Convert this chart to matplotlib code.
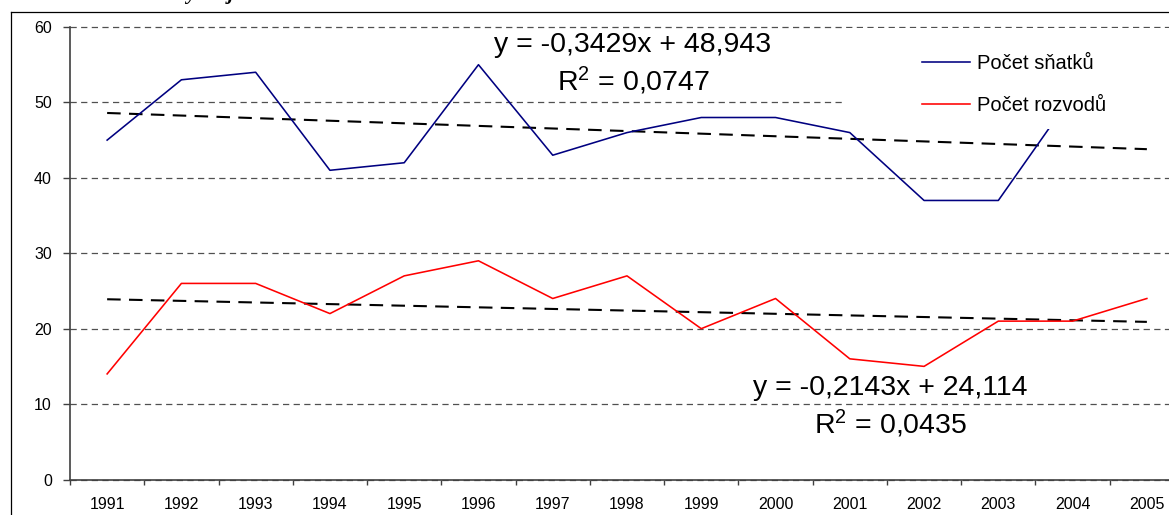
import numpy as np
import matplotlib
matplotlib.use("Agg")
import matplotlib.pyplot as plt
from matplotlib.lines import Line2D
from matplotlib.patches import Rectangle

plt.rcParams['font.family'] = ['Liberation Sans', 'DejaVu Sans']
plt.rcParams['mathtext.fontset'] = 'custom'
plt.rcParams['mathtext.rm'] = 'Liberation Sans'
plt.rcParams['mathtext.it'] = 'Liberation Sans:italic'

# data
years = ['1991', '1992', '1993', '1994', '1995', '1996', '1997', '1998',
         '1999', '2000', '2001', '2002', '2003', '2004', '2005']
snatky = [45, 53, 54, 41, 42, 55, 43, 46, 48, 48, 46, 37, 37, 51, 47]
rozvody = [14, 26, 26, 22, 27, 29, 24, 27, 20, 24, 16, 15, 21, 21, 24]
label_snatky = 'Počet sňatků'
label_rozvody = 'Počet rozvodů'
eq_snatky = ['y = -0,3429x + 48,943', r'R$^{\mathrm{2}}$ = 0,0747']
eq_rozvody = ['y = -0,2143x + 24,114', r'R$^{\mathrm{2}}$ = 0,0435']
yticks = [0, 10, 20, 30, 40, 50, 60]

W, H = 1169, 515
fig = plt.figure(figsize=(W / 100, H / 100), dpi=100)
fig.patch.set_facecolor('white')


def fx(px):
    return px / W


def fy(py):
    return 1 - py / H


# plot area in pixel terms (extends past the right edge of the canvas)
left, right, top, bottom = 70, 1184, 27, 479.5
ax = fig.add_axes([fx(left), fy(bottom), (right - left) / W, (bottom - top) / H])
ax.set_facecolor('none')

x = np.arange(len(years))
ax.set_xlim(-0.5, len(years) - 0.5)
ax.set_ylim(0, 60)

# series
ax.plot(x, snatky, color='#000080', lw=1.15, zorder=3, label=label_snatky)
ax.plot(x, rozvody, color='#ff0000', lw=1.15, zorder=3, label=label_rozvody)

# linear trends (x counted from 1 as in the spreadsheet)
xn = x + 1
for series in (snatky, rozvody):
    k, q = np.polyfit(xn, series, 1)
    ax.plot(x, k * xn + q, color='black', lw=1.5,
            linestyle=(0, (6.5, 4)), zorder=2.5)

# grid
ax.set_yticks(yticks)
ax.yaxis.grid(True, color='#505050', lw=0.9, linestyle=(0, (5, 3.5)))
for gl in ax.get_ygridlines():
    gl.set_clip_on(False)
ax.set_axisbelow(True)

# axes styling
for s in ('top', 'right'):
    ax.spines[s].set_visible(False)
for s in ('left', 'bottom'):
    ax.spines[s].set_color('#404040')
    ax.spines[s].set_linewidth(1.2)
    ax.spines[s].set_zorder(3.5)

ax.set_xticks(x)
ax.set_xticklabels(years)
ax.set_xticks(np.arange(-0.5, len(years), 1.0), minor=True)
ax.tick_params(axis='x', which='major', length=0, pad=12.5, labelsize=11.5)
ax.tick_params(axis='x', which='minor', direction='out', length=3.6,
               width=1.0, color='#404040')
ax.tick_params(axis='y', direction='out', length=5, width=1.0,
               color='#404040', pad=8, labelsize=11.5)

# legend on a white panel covering the plot corner
ax.add_patch(Rectangle((fx(846), fy(128.5)), fx(1200 - 846), (128.5 - 28.5) / H,
                       transform=fig.transFigure, facecolor='white',
                       edgecolor='none', zorder=4, clip_on=False))
leg = ax.legend(loc='center left', bbox_to_anchor=(fx(922), fy(84.5)),
                bbox_transform=fig.transFigure, frameon=False, borderpad=0,
                borderaxespad=0, fontsize=14.5, handlelength=2.4,
                handletextpad=0.35, labelspacing=1.15)
leg.set_zorder(5)

# trend equations
eq_kw = dict(ha='center', va='baseline', fontsize=20.5, color='black')
fig.text(fx(633), fy(51.7), eq_snatky[0], **eq_kw)
fig.text(fx(633), fy(90.7), eq_snatky[1], **eq_kw)
fig.text(fx(890), fy(395), eq_rozvody[0], **eq_kw)
fig.text(fx(891), fy(434), eq_rozvody[1], **eq_kw)

# chart frame (left and top edges)
fig.add_artist(Line2D([fx(10.5), fx(10.5)], [0, fy(12)], color='black', lw=0.9))
fig.add_artist(Line2D([fx(10.5), 1], [fy(12), fy(12)], color='black', lw=0.9))

# heading text running above the canvas
fig.text(fx(186), 1 + 0.5 / H, 'y', family='Liberation Serif', style='italic',
         weight='bold', fontsize=15, va='baseline')
fig.text(fx(228), 1 + 0.5 / H, 'j', family='Liberation Serif', style='italic',
         weight='bold', fontsize=15, va='baseline')

fig.savefig('out.png', dpi=100)
